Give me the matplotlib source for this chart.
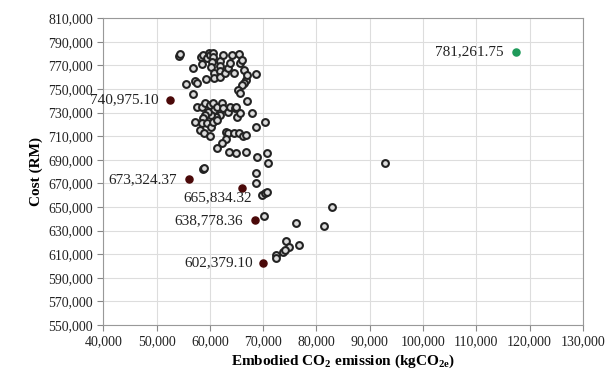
import matplotlib
matplotlib.use('Agg')
import matplotlib.pyplot as plt
from matplotlib.ticker import FuncFormatter, MultipleLocator

plt.rcParams['font.family'] = 'Liberation Serif'
plt.rcParams['mathtext.fontset'] = 'custom'
plt.rcParams['mathtext.rm'] = 'Liberation Serif'
plt.rcParams['mathtext.bf'] = 'Liberation Serif:bold'

# all design alternatives (open circles)
emission = [54300, 54400, 56800, 55500, 57200, 57600, 58300, 58800, 58600, 59400,
            59900, 60100, 60500, 60600, 60400, 60300, 59200, 60800, 60800, 61900,
            61900, 61900, 61900, 62500, 62800, 63500, 63800, 64100, 64500, 65500,
            65600, 66100, 66400, 66800, 66500, 66900, 66000, 65300, 65600, 67000,
            68600, 56800, 57500, 58500, 59100, 60000, 60500, 60800, 61400, 62200,
            62400, 61900, 61100, 60300, 59600, 59100, 58800, 57200, 58500, 59400,
            60300, 60600, 61300, 63500, 63800, 64700, 65100, 65600, 65000, 68000,
            68600, 70300, 58100, 58900, 60000, 63000, 63500, 64500, 65500, 66300,
            66800, 63000, 62200, 61300, 63600, 65000, 66800, 68900, 70800, 71000,
            58700, 58900, 68600, 68600, 69700, 70300, 70800, 70100, 76200, 81500,
            83000, 74300, 74900, 76800, 73800, 74100, 72500, 72400, 92900]
cost = [778300, 779300, 767600, 754300, 757100, 754900, 777500, 778900, 771300, 776100,
        780800, 778900, 780800, 776900, 772700, 768500, 758600, 763400, 759100, 773800,
        769800, 765300, 760500, 778900, 763400, 767600, 771900, 778900, 763900, 779500,
        771900, 774700, 766200, 757700, 754900, 761900, 753500, 749200, 746400, 740200,
        762800, 745600, 735100, 735100, 738000, 736500, 738500, 732300, 735100, 738000,
        733700, 728000, 726600, 728000, 730800, 728000, 725300, 722400, 721000, 721000,
        718100, 722400, 723800, 730800, 735100, 733700, 726600, 729500, 735100, 730000,
        718100, 722400, 715300, 713000, 710300, 713900, 712500, 712500, 712500, 710300,
        711100, 707500, 704100, 699800, 696900, 695600, 696400, 692700, 695600, 687600,
        682000, 683000, 679100, 670700, 660200, 661700, 663000, 642400, 636300, 634200,
        650300, 621300, 616400, 617600, 612200, 613600, 609400, 606600, 687100]

# highlighted solutions
best_emission = [52600, 56100, 66000, 68400, 70000]
best_cost = [740975.10, 673324.37, 665834.32, 638778.36, 602379.10]
max_emission = [117400]
max_cost = [781261.75]

cost_ticks = list(range(550000, 810001, 20000))

fig, ax = plt.subplots(figsize=(6.11, 3.71), dpi=100)
fig.subplots_adjust(left=0.169, right=0.954, top=0.951, bottom=0.124)

ax.scatter(emission, cost, s=24, facecolor='#dcdcdc', edgecolor='#222222',
           linewidth=1.5, zorder=3)
ax.scatter(best_emission, best_cost, s=26, color='#4a0808', zorder=4)
ax.scatter(max_emission, max_cost, s=26, color='#1f9a5a', zorder=4)

# labels: (offset x, offset y, ha) in pixels
offsets = [(-12, 0, 'right'), (-12, 0, 'right'), (-24, -9, 'center'),
           (-12, 0, 'right'), (-10, 0, 'right')]
for x, y, (dx, dy, ha) in zip(best_emission, best_cost, offsets):
    ax.annotate(f'{y:,.2f}', (x, y), xytext=(dx, dy), textcoords='offset pixels',
                ha=ha, va='center', fontsize=11, color='#222222', zorder=5)
ax.annotate(f'{max_cost[0]:,.2f}', (max_emission[0], max_cost[0]), xytext=(-12, 0),
            textcoords='offset pixels', ha='right', va='center', fontsize=11,
            color='#222222')

ax.set_xlim(40000, 130000)
ax.set_ylim(550000, 810000)
ax.xaxis.set_major_locator(MultipleLocator(10000))
ax.set_yticks(cost_ticks)
fmt = FuncFormatter(lambda v, p: f'{v:,.0f}')
ax.xaxis.set_major_formatter(fmt)
ax.yaxis.set_major_formatter(fmt)
ax.tick_params(labelsize=10, colors='#222222', length=4, color='#888888')

ax.grid(True, color='#dddddd', linewidth=0.8, zorder=0)
ax.set_axisbelow(True)
for sp in ax.spines.values():
    sp.set_color('#999999')

ax.set_xlabel(r'Embodied CO$_\mathbf{2}$ emission (kgCO$_{\mathbf{2e}}$)',
              fontsize=11, fontweight='bold', labelpad=3)
ax.set_ylabel('Cost (RM)', fontsize=11, fontweight='bold', labelpad=4)

fig.savefig('out.png', dpi=100)
